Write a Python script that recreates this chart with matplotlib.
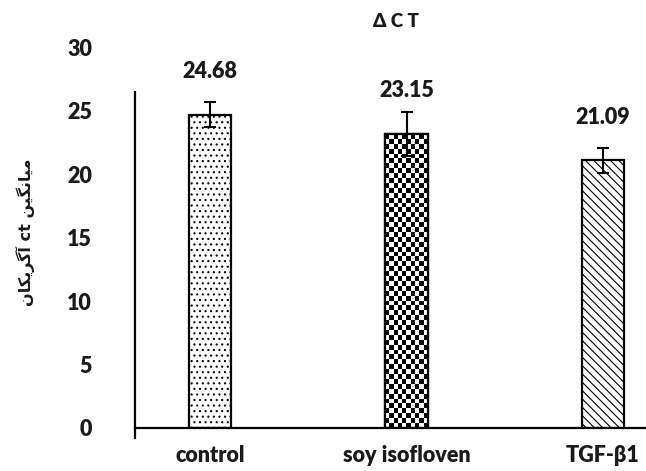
#!/usr/bin/env python3
"""
Delta CT bar chart with error bars
"""

import numpy as np
import matplotlib
matplotlib.use('Agg')
import matplotlib.pyplot as plt

# Data
categories = ['control', 'soy isofloven', 'TGF-β1']
means = [24.68, 23.15, 21.09]
errors = [1.0, 1.7, 1.0]
hatches = ['...', None, '\\\\\\\\']

# Persian label "میانگین ct آگریکان", pre-shaped in visual order
word_avg = '\uFEE6\uFBFF\uFB95\uFEE7\uFE8E\uFBFF\uFEE3'
word_aggrecan = '\uFEE5\uFE8E\uFB91\uFBFE\uFEAE\uFB94\uFE81'
ylabel = word_aggrecan + ' ct ' + word_avg

plt.rcParams['font.family'] = ['Lato', 'DejaVu Sans']
plt.rcParams['hatch.linewidth'] = 0.8
text_color = '#1a1a1a'
fsize = 15.5

fig = plt.figure(figsize=(6.46, 4.71), dpi=100)
ax = fig.add_axes([0.209, 0.0913, 0.791, 0.8087])

x = np.arange(len(categories))
bars = ax.bar(x, means, width=0.215, color='white', edgecolor='black',
              linewidth=1.6, zorder=2)
for bar, h in zip(bars, hatches):
    if h:
        bar.set_hatch(h)

# checkerboard fill for the middle bar
mid = bars[1]
checker = (np.indices((60, 10)).sum(axis=0) % 2).astype(float)
im = ax.imshow(checker, cmap='gray', interpolation='nearest', aspect='auto',
               extent=(mid.get_x(), mid.get_x() + mid.get_width(), 0, mid.get_height()),
               zorder=2.5)
im.set_clip_path(mid)
ax.bar(x[1], means[1], width=0.215, color='none', edgecolor='black',
       linewidth=1.6, zorder=3)

ax.errorbar(x, means, yerr=errors, fmt='none', ecolor='black',
            elinewidth=1.5, capsize=4, capthick=1.5, zorder=4)

for xi, m in zip(x, means):
    ax.text(xi, m + 3.4, f'{m:.2f}', ha='center', va='center',
            fontsize=fsize, fontweight='heavy', color=text_color)

ax.set_xlim(-0.383, 2.22)
ax.set_ylim(0, 30)
ax.set_yticks(range(0, 31, 5))
ax.set_xticks(x)
ax.set_xticklabels(categories, fontsize=fsize, fontweight='heavy', color=text_color)
ax.tick_params(axis='y', length=0, pad=31, labelsize=fsize, labelcolor=text_color)
ax.tick_params(axis='x', length=0, pad=12)
for lbl in ax.get_yticklabels():
    lbl.set_fontweight('heavy')

ax.spines['top'].set_visible(False)
ax.spines['right'].set_visible(False)
ax.spines['bottom'].set_linewidth(1.6)
ax.spines['left'].set_linewidth(1.6)
ax.spines['left'].set_bounds(-0.75, 26.5)

fig.text(0.040, 0.507, ylabel, rotation=90, ha='center', va='center',
         fontsize=11.5, fontweight='bold', family=['DejaVu Sans'], color=text_color)

fig.text(0.613, 0.955, 'Δ C T', ha='center', va='center', fontsize=13.5,
         fontweight='heavy', color=text_color)

fig.savefig('out.png', dpi=100)
